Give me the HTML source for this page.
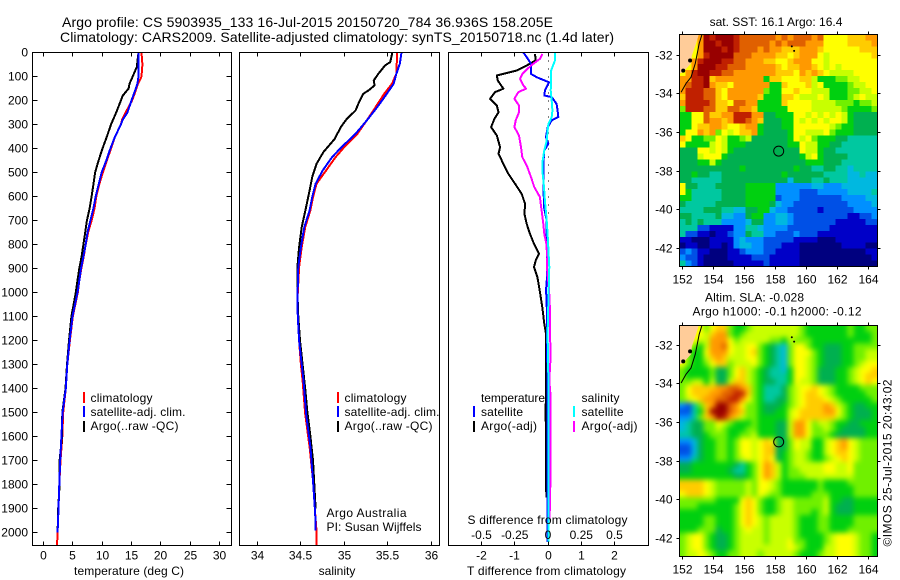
<!DOCTYPE html>
<html lang="en">
<head>
<meta charset="utf-8">
<title>Argo profile CS 5903935_133</title>
<style>
html,body{margin:0;padding:0;background:#fff;}
svg{display:block;font-family:"Liberation Sans",Arial,sans-serif;fill:#000;}
text{font-size:12px;dominant-baseline:central;}
.t14{font-size:14px;}
</style>
</head>
<body>
<svg id="chart" width="900" height="580" viewBox="0 0 900 580" xmlns="http://www.w3.org/2000/svg">
  <defs>
    <filter id="sla-smooth" x="-10%" y="-10%" width="120%" height="120%" color-interpolation-filters="sRGB">
      <feGaussianBlur stdDeviation="2.6"/>
    </filter>
  </defs>
  <rect x="0" y="0" width="900" height="580" fill="#fff"/>
  <g id="plots"></g>
  <g>
    <text class="t14" x="62" y="22" textLength="491">Argo profile: CS 5903935_133 16-Jul-2015 20150720_784 36.936S 158.205E</text>
    <text class="t14" x="60" y="37" textLength="554">Climatology: CARS2009. Satellite-adjusted climatology: synTS_20150718.nc (1.4d later)</text>
  </g>

  <text x="74" y="571" textLength="110">temperature (deg C)</text>
  <text x="337" y="571" text-anchor="middle">salinity</text>
  <text x="467" y="571" textLength="159">T difference from climatology</text>
  <text x="467.5" y="520" textLength="160">S difference from climatology</text>

  <g>
    <rect x="83" y="392" width="2" height="11" fill="#f00"/>
    <rect x="83" y="406" width="2" height="11" fill="#00f"/>
    <rect x="83" y="421" width="2" height="11" fill="#000"/>
    <text x="90.5" y="398" textLength="62">climatology</text>
    <text x="90.5" y="412" textLength="95">satellite-adj. clim.</text>
    <text x="90.5" y="426" textLength="88">Argo(..raw -QC)</text>
  </g>
  <g>
    <rect x="337" y="392" width="2" height="11" fill="#f00"/>
    <rect x="337" y="406" width="2" height="11" fill="#00f"/>
    <rect x="337" y="421" width="2" height="11" fill="#000"/>
    <text x="344.5" y="398" textLength="62">climatology</text>
    <text x="344.5" y="412" textLength="95">satellite-adj. clim.</text>
    <text x="344.5" y="426" textLength="88">Argo(..raw -QC)</text>
    <text x="326.5" y="513" textLength="80">Argo Australia</text>
    <text x="326.5" y="527" textLength="95">PI: Susan Wijffels</text>
  </g>
  <g>
    <text x="481" y="398" textLength="64">temperature</text>
    <rect x="473" y="406" width="2" height="11" fill="#00f"/>
    <rect x="473" y="421" width="2" height="11" fill="#000"/>
    <text x="481" y="412" textLength="42">satellite</text>
    <text x="481" y="426" textLength="56">Argo(-adj)</text>
    <text x="581.5" y="398" textLength="38">salinity</text>
    <rect x="573" y="406" width="2" height="11" fill="#0ff"/>
    <rect x="573" y="421" width="2" height="11" fill="#f0f"/>
    <text x="581.5" y="412" textLength="42">satellite</text>
    <text x="581.5" y="426" textLength="56">Argo(-adj)</text>
  </g>

  <text x="776" y="22" text-anchor="middle">sat. SST: 16.1 Argo: 16.4</text>
  <text x="705" y="297.5" textLength="99">Altim. SLA: -0.028</text>
  <text x="692.5" y="311.5" textLength="169">Argo h1000: -0.1 h2000: -0.12</text>
  <text transform="translate(887.5 546.5) rotate(-90)" x="0" y="0" textLength="167">©IMOS 25-Jul-2015 20:43:02</text>
</svg>
<script>
// ---------- Axis tick labels ----------
const depthTicks = [0,100,200,300,400,500,600,700,800,900,1000,1100,1200,1300,1400,1500,1600,1700,1800,1900,2000];
const tempTicks = [0,5,10,15,20,25,30];
const salTicks = [34,34.5,35,35.5,36];
const salTickLabels = ['34','34.5','35','35.5','36'];
const tDiffTicks = [-2,-1,0,1,2];
const tDiffLabels = ['-2','-1','0','1','2'];
const sDiffTicks = [-0.5,-0.25,0,0.25,0.5];
const sDiffLabels = ['-0.5','-0.25','0','0.25','0.5'];
const lonTicks = [152,154,156,158,160,162,164];
const latTicks = [-32,-34,-36,-38,-40,-42];

// ---------- Temperature panel ----------
const tempClimDepth = [0,50,100,130,160,200,250,280,300,350,400,450,500,550,600,650,700,750,800,850,900,950,1000,1100,1200,1300,1400,1500,1600,1700,1800,1900,2000,2055];
const tempClimValues = [16.7,16.85,16.7,16.1,15.7,15.1,14.0,13.4,13.2,12.2,11.5,10.8,10.1,9.5,9.0,8.7,8.2,7.6,7.2,6.85,6.45,6.1,5.85,5.0,4.5,4.05,3.8,3.35,3.2,2.9,2.7,2.55,2.4,2.3];
const tempSatDepth = [0,100,130,160,200,250,280,300,350,400,450,500,550,600,650,700,750,800,850,900,950,1000,1100,1200,1300,1400,1500,1600,1700,1800,1900,2000];
const tempSatValues = [16.2,16.2,16.0,15.6,15.0,14.3,13.5,13.2,12.2,11.4,10.7,9.9,9.4,8.9,8.5,8.0,7.5,7.2,6.8,6.4,6.1,5.8,4.95,4.45,4.05,3.8,3.25,3.05,2.85,2.7,2.55,2.4];
const tempArgoDepth = [0,60,100,130,150,180,200,250,300,350,400,450,500,550,600,650,700,750,800,850,900,950,1000,1100,1200,1300,1400,1500,1600,1700,1800,1900,2000];
const tempArgoValues = [16.2,15.9,15.2,14.66,14.5,13.5,13.2,12.4,11.5,10.8,10.05,9.4,8.8,8.5,8.2,7.85,7.4,7.1,6.8,6.5,6.1,5.8,5.5,4.75,4.35,4.0,3.75,3.2,3.15,2.75,2.75,2.5,2.4];

// ---------- Salinity panel ----------
const salClimDepth = [0,89,130,172,228,283,339,394,436,492,547,603,658,728,811,894,1033,1100,1200,1300,1367,1506,1644,1783,1922,1992,2055];
const salClimValues = [35.61,35.6,35.55,35.46,35.36,35.26,35.15,35.0,34.9,34.79,34.68,34.64,34.61,34.55,34.51,34.48,34.46,34.465,34.48,34.5,34.52,34.55,34.6,34.64,34.665,34.68,34.68];
const salSatDepth = [0,47,89,130,172,228,283,339,394,436,492,547,603,658,728,811,894,1033,1100,1200,1300,1367,1506,1644,1783,1922,1992];
const salSatValues = [35.66,35.64,35.6,35.57,35.49,35.38,35.26,35.13,34.97,34.86,34.75,34.67,34.63,34.6,34.54,34.5,34.47,34.46,34.465,34.48,34.51,34.53,34.56,34.61,34.64,34.665,34.67];
const salArgoDepth = [0,40,54,90,117,137,158,172,207,242,276,311,360,415,464,519,575,644,728,811,894,1000,1100,1200,1300,1400,1500,1600,1700,1800,1900];
const salArgoValues = [35.555,35.53,35.47,35.39,35.34,35.35,35.28,35.22,35.17,35.13,35.03,34.96,34.89,34.76,34.68,34.63,34.6,34.56,34.51,34.48,34.46,34.46,34.47,34.49,34.52,34.55,34.575,34.61,34.64,34.655,34.67];

// ---------- Difference panel ----------
const tDiffArgoDepth = [6,33,54,75,96,117,151,165,193,221,249,276,311,346,394,422,464,506,547,589,631,672,714,756,797,839,867,894,936,992,1061,1131,1172,1311,1500,1700,1854];
const tDiffArgoValues = [-0.39,-0.37,-0.64,-0.94,-1.54,-1.51,-1.34,-1.59,-1.74,-1.54,-1.49,-1.61,-1.71,-1.54,-1.44,-1.49,-1.34,-1.19,-0.99,-0.79,-0.69,-0.71,-0.64,-0.54,-0.42,-0.27,-0.37,-0.42,-0.32,-0.25,-0.17,-0.11,-0.06,-0.06,-0.07,-0.06,-0.05];
const tDiffSatDepth = [0,19,47,89,103,124,158,179,186,214,242,269,283,311,353,381,408,464,519,644,700,756,936,992,1033,1311,2040];
const tDiffSatValues = [-0.74,-0.64,-0.51,-0.51,-0.34,0.03,-0.09,-0.11,0.11,0.26,0.29,0.31,0.11,-0.01,-0.06,0.01,-0.11,-0.14,-0.14,-0.12,-0.04,-0.04,-0.03,-0.06,-0.04,-0.02,-0.01];
const sDiffArgoDepth = [6,26,54,89,110,137,151,165,193,221,249,283,311,346,394,436,478,519,561,603,617,658,714,756,797,853,894,992,1075,1283,1367,1436,1561,1728,1922,1950];
const sDiffArgoValues = [-0.043,-0.06,-0.128,-0.193,-0.21,-0.185,-0.165,-0.223,-0.253,-0.218,-0.218,-0.243,-0.253,-0.218,-0.203,-0.193,-0.155,-0.128,-0.103,-0.06,-0.058,-0.048,-0.035,-0.028,-0.013,-0.005,-0.008,0.008,0.015,0.018,0.01,0.02,0.02,0.02,0.0125,0.0125];
const sDiffSatDepth = [0,33,75,117,158,200,242,269,297,325,367,408,450,506,561,617,700,756,894,1033,1172,1367,2040];
const sDiffSatValues = [0.053,0.053,0.023,0.023,0.02,0.028,0.033,0.028,0.003,-0.003,-0.01,-0.028,-0.04,-0.04,-0.03,-0.023,-0.01,-0.003,0.01,0.003,-0.003,0.003,0.003];

// ---------- Maps: one hex digit per cell, colour level 0-f ----------
const sstRows = [
"aaacfefffeddddddcdcdddcdaaaabbbcc",
"aaacffeffedddddcdcdddcccaaaabbbbc",
"aaacfffefedddcdccbbbcccbaaaaaabbb",
"aaaceffffdddccccbbabccca9aaaaaaab",
"aacefffeeddcccbbaabcccaa9aaaaaaaa",
"aacfffeedddcccccbabbccba9a9aaaaaa",
"aceffeeddcccccccbbbacbcba9999aaaa",
"cceefbcccccccc7bbaaabb97778899aaa",
"cdeefcbbacccccc77baaab9a7777899aa",
"ceeeddbacccccc877aabaa9997778899a",
"beeeddbacccccb777bba999a977789a99",
"ceeeedbbaddcc7777baaaa99998887889",
"8eeeddbbddccb77777aaaa99999877778",
"77aadbbcceeecc66777aa9a9a9a976666",
"77aadccbceedcb66677a9a9a9aa976666",
"77abbccbaabcc766677aaaaaa98776666",
"7aacbc8a9abbc766667aa999a87776666",
"ba7788a977896666667a9a87776655555",
"a77779a9777666666677a997766555555",
"666aa9a9766666666666a997665555555",
"6669aaa766666666666679a7666655555",
"666779766666666666666777666555555",
"666666666676666666676655665545555",
"667665566666666667666666555544544",
"665555566666666666466655655544444",
"a66555666667777733333344333444444",
"a75555566667777733332223333344445",
"775555566667777723332222222333344",
"655555666667777643322222222233334",
"555566655446677433222221222223333",
"665555644336773344322222222211223",
"565655533334663344322222221111122",
"555221111335543333222222211111111",
"522110112336553322232221111111111",
"110001111343332222211110001111111",
"011001101344332221110000000111100",
"232110001123332211110000000000011",
"322100001111222111110000000000001",
"532100000111112111110000000000000"
];
const slaRows = [
"aaaa 8abb 87789 99999 99877 77777 87788",
"aaaa 9bcc 87899 99999 99877 77777 87778",
"aaa9 9ccc a8999 99887 98887 77777 77778",
"aa87 9ccd a99aa 87654 8aa87 76667 78888",
"a877 accc a99ab 87654 8aaa8 76667 78899",
"a877 9bcb 999aa 87654 8aa98 76667 78899",
"a877 8abb 8999a 87654 8aa98 76667 789aa",
"8777 7866 8ab98 76554 7aa98 66677 89aab",
"8777 7866 8ab98 76555 7aa98 66677 89abb",
"8899 7966 9bb98 76655 7a998 66677 89aba",
"8abb bbcc ddcb8 75556 89aab a9877 77888",
"8abb bccd deeb8 75556 89abb a9877 77788",
"89ab ccdd eeca8 75566 89abb ba987 77778",
"3258 bcff dca88 76667 89abb bcb98 76677",
"2257 bfff dcb88 76677 9abbb bcca8 76667",
"3358 bcfe cb988 77777 9abbb bbb98 76667",
"4566 88a9 87778 77766 9cca8 99877 66777",
"4566 8898 77788 77766 9cca8 89876 66677",
"5566 7888 77889 77766 9cca8 88766 66677",
"3346 7788 78aa9 aba66 8a997 79abc a9888",
"2246 7788 78aa9 abb66 8a997 79abc a9888",
"2246 7788 78aa9 abb67 89987 79abb a9888",
"3356 7788 789a9 aba67 89987 789ab a9888",
"6677 7777 76578 acb97 89999 9aa99 a8888",
"6677 7777 65578 acb97 88999 9aa99 a8888",
"7777 7777 76678 acb97 88899 99999 98888",
"bbbb a988 88898 aa987 77777 87777 88888",
"bbbb a988 88898 aa987 77777 87777 78888",
"abbb a988 88898 a9887 77778 88777 78888",
"8888 8877 77aba 87789 98888 89776 67777",
"8887 7777 78aba 87789 98888 89766 67777",
"7777 7777 78aba 87789 98887 89766 67777",
"7777 8877 78aba 98999 98777 88777 78888",
"7777 8877 78aba 98999 98777 88777 78888",
"7778 8867 789a9 98999 98777 88777 88888",
"89aa 8766 78999 98999 98777 789aa a9887",
"89aa 8766 78999 98999 a8877 789aa a9887",
"89aa 8766 78999 99999 a9877 799aa a9887",
"899a 9877 88999 89999 98777 899aa a9887"
];
const levelColors = ['#00007f','#0000c8','#0050e6','#0090ff','#00b8e0','#00c8a0','#00b050','#00d010','#70f000','#c8ff00','#ffff00','#ffcc00','#ff9900','#e06000','#c02000','#980000'];
const landLon = [151.5,153.06,153.06,152.88,152.62,152.56,152.06,151.9,151.5];
const landLat = [-30.5,-30.5,-30.9,-31.38,-31.99,-32.4,-32.85,-32.9,-32.9];
const coastLon = [153.27,153.27,153.09,152.84,152.56,152.24,151.92];
const coastLat = [-30.5,-30.9,-31.37,-32.4,-33.11,-33.44,-33.89];
const coastBlobLon = [152.5,152.06];
const coastBlobLat = [-32.25,-32.77];
const islandLon = [159.05,159.2];
const islandLat = [-31.52,-31.75];
const floatLon = 158.205;
const floatLat = -36.936;

// ---------- Helpers ----------
const NS = 'http://www.w3.org/2000/svg';
const root = document.getElementById('plots');
function mk(tag, attrs, parent) {
  const el = document.createElementNS(NS, tag);
  for (const k in attrs) el.setAttribute(k, attrs[k]);
  (parent || root).appendChild(el);
  return el;
}
function linear(d0, r0, d1, r1) { return v => r0 + (v - d0) * (r1 - r0) / (d1 - d0); }
const yDepth = linear(0, 52.5, 2000, 532.5);
const xTemp = linear(0, 43.5, 30, 219.5);
const xSal = linear(34, 257.5, 36, 431);
const xTD = linear(0, 548, 2, 614.5);
const xSD = linear(0, 548, 0.5, 614.5);

function series(name, depth, values, xFn, color, clip) {
  const pts = depth.map((d, i) => xFn(values[i]).toFixed(1) + ',' + yDepth(d).toFixed(1)).join(' ');
  const el = mk('polyline', {points: pts, fill: 'none', stroke: color, 'stroke-width': 2, 'stroke-linejoin': 'round', 'shape-rendering': 'crispEdges', 'clip-path': 'url(#' + clip + ')'});
  
  
}
function frame(name, x0, y0, x1, y1) {
  const el = mk('rect', {x: x0, y: y0, width: x1 - x0, height: y1 - y0, fill: 'none', stroke: '#000', 'stroke-width': 1, 'shape-rendering': 'crispEdges'});
  
  
}
function tick(x1, y1, x2, y2) {
  const el = mk('line', {x1: x1, y1: y1, x2: x2, y2: y2, stroke: '#000', 'stroke-width': 1, 'shape-rendering': 'crispEdges'});
  
  
}
function label(txt, x, y, anchor) {
  const el = mk('text', {x: x, y: y, 'text-anchor': anchor});
  el.textContent = txt;
  
  
}
function clip(id, x0, y0, x1, y1) {
  const c = mk('clipPath', {id: id});
  mk('rect', {x: x0, y: y0, width: x1 - x0, height: y1 - y0}, c);
}
function roundPx(v) { return Math.round(v - 0.5) + 0.5; }

// ---------- Profile panels ----------
const bottom = 545.5, top0 = 52.5;
clip('c1', 33, 53, 231, 545);
clip('c2', 240, 53, 439, 545);
clip('c3', 449, 53, 648, 545);

series('temperature-climatology-line', tempClimDepth, tempClimValues, xTemp, '#f00', 'c1');
series('temperature-argo-line', tempArgoDepth, tempArgoValues, xTemp, '#000', 'c1');
series('temperature-satellite-line', tempSatDepth, tempSatValues, xTemp, '#00f', 'c1');

series('salinity-climatology-line', salClimDepth, salClimValues, xSal, '#f00', 'c2');
series('salinity-argo-line', salArgoDepth, salArgoValues, xSal, '#000', 'c2');
series('salinity-satellite-line', salSatDepth, salSatValues, xSal, '#00f', 'c2');

const zeroLine = mk('line', {x1: 548.5, y1: top0, x2: 548.5, y2: yDepth(700), stroke: '#000', 'stroke-width': 1, 'stroke-dasharray': '1 7', 'shape-rendering': 'crispEdges'});


series('t-difference-argo-line', tDiffArgoDepth, tDiffArgoValues, xTD, '#000', 'c3');
series('t-difference-satellite-line', tDiffSatDepth, tDiffSatValues, xTD, '#00f', 'c3');
series('s-difference-argo-line', sDiffArgoDepth, sDiffArgoValues, xSD, '#f0f', 'c3');
series('s-difference-satellite-line', sDiffSatDepth, sDiffSatValues, xSD, '#0ff', 'c3');

frame('temperature-panel-frame', 32.5, top0, 231.5, bottom);
frame('salinity-panel-frame', 239.5, top0, 439.5, bottom);
frame('difference-panel-frame', 448.5, top0, 648.5, bottom);

depthTicks.forEach(d => {
  const y = roundPx(yDepth(d));
  tick(32.5, y, 37.5, y);
  tick(226.5, y, 231.5, y);
  label(String(d), 28, y, 'end');
});
tempTicks.forEach(v => {
  const x = roundPx(xTemp(v));
  tick(x, top0, x, top0 + 4);
  tick(x, bottom, x, bottom - 4);
  label(String(v), x, 555.5, 'middle');
});
salTicks.forEach((v, i) => {
  const x = roundPx(xSal(v));
  tick(x, top0, x, top0 + 4);
  tick(x, bottom, x, bottom - 4);
  label(salTickLabels[i], x, 555.5, 'middle');
});
tDiffTicks.forEach((v, i) => {
  const x = roundPx(xTD(v));
  tick(x, top0, x, top0 + 4);
  tick(x, bottom, x, bottom - 4);
  label(tDiffLabels[i], x, 555.5, 'middle');
});
sDiffTicks.forEach((v, i) => {
  label(sDiffLabels[i], xSD(v), 535, 'middle');
});

// ---------- Maps ----------
function drawMap(prefix, rawRows, left, right, top, bot, dataLat32Y, tickLat32Y, smooth) {
  const rows = rawRows.map(r => r.replace(/ /g, ''));
  const xLon = linear(152, 682.3, 164, 868.7);
  const yLat = linear(-32, dataLat32Y, -42, dataLat32Y + 193.3);
  const yTick = linear(-32, tickLat32Y, -42, tickLat32Y + 193.3);
  const lonOfX = linear(682.3, 152, 868.7, 164);
  const latOfY = linear(dataLat32Y, -32, dataLat32Y + 193.3, -42);
  const lon0 = lonOfX(left), lon1 = lonOfX(right);
  const lat0 = latOfY(top), lat1 = latOfY(bot);
  const dLon = (lon1 - lon0) / rows[0].length;
  const dLat = (lat1 - lat0) / rows.length;
  const clipId = prefix + '-clip';
  clip(clipId, left, top, right, bot);
  const clipped = mk('g', {'clip-path': 'url(#' + clipId + ')'});
  
  
  const cells = mk('g', smooth ? {filter: 'url(#sla-smooth)'} : {'shape-rendering': 'crispEdges'}, clipped);
  
  
  const bleed = smooth ? 12 : 0;
  rows.forEach((row, r) => {
    for (let c = 0; c < row.length; c++) {
      const level = parseInt(row[c], 16);
      let x0 = xLon(lon0 + c * dLon), x1 = xLon(lon0 + (c + 1) * dLon);
      let y0 = yLat(lat0 + r * dLat), y1 = yLat(lat0 + (r + 1) * dLat);
      if (c === 0) x0 -= bleed;
      if (c === row.length - 1) x1 += bleed;
      if (r === 0) y0 -= bleed;
      if (r === rows.length - 1) y1 += bleed;
      const cell = mk('rect', {x: x0.toFixed(2), y: y0.toFixed(2), width: (x1 - x0 + 0.6).toFixed(2), height: (y1 - y0 + 0.6).toFixed(2), fill: levelColors[level]}, cells);
      
      
    }
  });
  const land = mk('polygon', {points: landLon.map((v, i) => xLon(v).toFixed(1) + ',' + yLat(landLat[i]).toFixed(1)).join(' '), fill: '#ffcc99'}, clipped);
  
  
  const coast = mk('polyline', {points: coastLon.map((v, i) => xLon(v).toFixed(1) + ',' + yLat(coastLat[i]).toFixed(1)).join(' '), fill: 'none', stroke: '#000', 'stroke-width': 1}, clipped);
  
  
  coastBlobLon.forEach((v, i) => {
    const blob = mk('circle', {cx: xLon(v), cy: yLat(coastBlobLat[i]), r: 2, fill: '#000'}, clipped);
    
    
  });
  islandLon.forEach((v, i) => {
    const island = mk('circle', {cx: xLon(v), cy: yLat(islandLat[i]), r: 1, fill: '#000'}, clipped);
    
    
  });
  const marker = mk('circle', {cx: xLon(floatLon), cy: yLat(floatLat), r: 5, fill: 'none', stroke: '#000', 'stroke-width': 1});
  
  
  frame(prefix + '-frame', left, top, right, bot);
  lonTicks.forEach(v => {
    const x = roundPx(xLon(v));
    tick(x, top, x, top - 3);
    tick(x, bot, x, bot + 3);
    label(String(v), x, bot + 13, 'middle');
  });
  latTicks.forEach(v => {
    const y = roundPx(yTick(v));
    tick(left, y, left - 3, y);
    tick(right, y, right + 3, y);
    label(String(v), 672.5, y, 'end');
  });
}
drawMap('sst-map', sstRows, 679.5, 877.5, 34.5, 266.5, 55.7, 55.2, false);
drawMap('sla-map', slaRows, 679.5, 877.5, 325.5, 556.5, 346.5, 345.2, true);
</script>
</body>
</html>
